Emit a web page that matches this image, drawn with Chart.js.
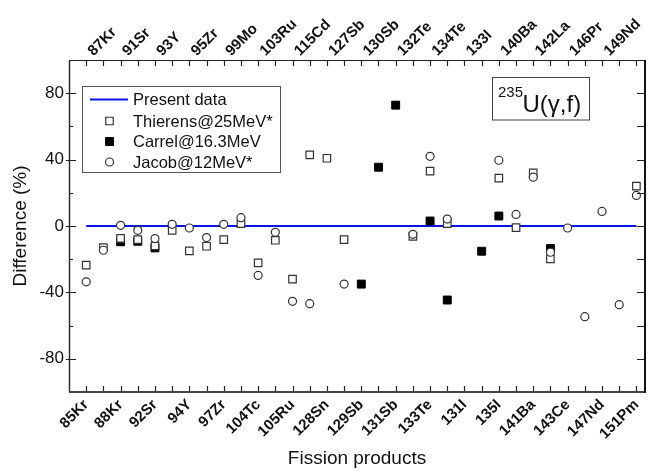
<!DOCTYPE html>
<html>
<head>
<meta charset="utf-8">
<script src="https://cdn.jsdelivr.net/npm/chart.js@4.4.1/dist/chart.umd.min.js"></script>
<style>
    html, body { margin: 0; padding: 0; background: #fff; }
    #wrap { width: 670px; height: 472px; }
</style>
</head>
<body>
<div id="wrap"><canvas id="chart" width="670" height="472"></canvas></div>
<script>
// Fission products in axis order: even positions are labelled on the bottom axis, odd on the top axis
const products = ['85Kr', '87Kr', '88Kr', '91Sr', '92Sr', '93Y', '94Y', '95Zr', '97Zr', '99Mo',
    '104Tc', '103Ru', '105Ru', '115Cd', '128Sn', '127Sb', '129Sb', '130Sb', '131Sb', '132Te',
    '133Te', '134Te', '131I', '133I', '135I', '140Ba', '141Ba', '142La', '143Ce', '146Pr',
    '147Nd', '149Nd', '151Pm'];

// Difference (%) with respect to present data
const presentData = [0, 0, 0, 0, 0, 0, 0, 0, 0, 0, 0, 0, 0, 0, 0, 0, 0, 0, 0, 0,
    0, 0, 0, 0, 0, 0, 0, 0, 0, 0, 0, 0, 0];
const thierens = [-23.6, -13, -7.5, -8.2, -12, -2.6, -15, -12.2, -8.2, 1.4,
    -22.2, -8.6, -32, 42.8, 40.8, -8.2, null, null, null, -6.2,
    33, 1.4, null, null, 28.8, -1, 32, -19.8, null, null,
    null, null, 24];
const carrel = [null, null, -9.5, -9.2, -13.2, null, null, null, null, null,
    null, null, null, null, null, null, -35, 35.4, 72.8, null,
    3, -44.6, null, -15.2, 6, null, null, -13.6, null, null,
    null, null, null];
const jacob = [-33.6, -14.6, 0.4, -2.6, -7.6, 1, -1.2, -7, 1, 5,
    -29.8, -3.8, -45.4, -46.8, null, -35, null, null, null, -5,
    42, 4.2, null, null, 39.6, 7, 29.4, -15.8, -1.2, -54.6,
    8.8, -47.4, 18.4];

const yMajorTicks = [-80, -40, 0, 40, 80];
const yAllTicks = [-80, -60, -40, -20, 0, 20, 40, 60, 80];

const FONT = '"Liberation Sans", Arial, Helvetica, sans-serif';

function toPoints(values) {
    return values.map((v, i) => ({ x: i, y: v })).filter(p => p.y !== null);
}

const bottomIdx = products.map((p, i) => i).filter(i => i % 2 === 0);
const topIdx = products.map((p, i) => i).filter(i => i % 2 === 1);

// Frame, inward ticks, legend box and reaction label
const framePlugin = {
    id: 'frame',
    afterDraw(chart) {
        const ctx = chart.ctx;
        const a = chart.chartArea;
        const xs = chart.scales.x;
        const ys = chart.scales.y;
        ctx.save();

        // ticks
        ctx.strokeStyle = '#222';
        ctx.lineWidth = 1.2;
        ctx.beginPath();
        products.forEach((p, i) => {
            const px = Math.round(xs.getPixelForValue(i)) + 0.5;
            ctx.moveTo(px, a.bottom);
            ctx.lineTo(px, a.bottom - 6);
            ctx.moveTo(px, a.top);
            ctx.lineTo(px, a.top + 6);
        });
        yAllTicks.forEach(v => {
            const py = Math.round(ys.getPixelForValue(v)) + 0.5;
            const major = yMajorTicks.includes(v);
            ctx.moveTo(a.left - (major ? 3 : 0), py);
            ctx.lineTo(a.left + (major ? 7 : 4), py);
            ctx.moveTo(a.right, py);
            ctx.lineTo(a.right - 8, py);
        });
        ctx.stroke();

        // frame
        ctx.strokeStyle = '#222';
        ctx.lineWidth = 1;
        ctx.beginPath();
        ctx.moveTo(a.left, a.top + 0.5);
        ctx.lineTo(a.right, a.top + 0.5);
        ctx.stroke();
        ctx.lineWidth = 1.4;
        ctx.beginPath();
        ctx.moveTo(a.left + 0.5, a.top);
        ctx.lineTo(a.left + 0.5, a.bottom);
        ctx.stroke();
        ctx.strokeStyle = '#444';
        ctx.lineWidth = 1.8;
        ctx.beginPath();
        ctx.moveTo(a.left, a.bottom);
        ctx.lineTo(a.right + 1, a.bottom);
        ctx.stroke();
        ctx.strokeStyle = '#111';
        ctx.lineWidth = 2;
        ctx.beginPath();
        ctx.moveTo(a.right, a.top);
        ctx.lineTo(a.right, a.bottom + 1);
        ctx.stroke();

        // legend
        ctx.strokeStyle = '#555';
        ctx.lineWidth = 1;
        ctx.strokeRect(82.5, 86.5, 198, 86);
        const rows = [99.5, 121, 141.5, 162];
        ctx.font = '16.5px ' + FONT;
        ctx.textBaseline = 'middle';
        ctx.textAlign = 'left';
        chart.data.datasets.forEach((ds, k) => {
            const y = rows[k];
            if (ds.showLine) {
                ctx.strokeStyle = ds.borderColor;
                ctx.lineWidth = ds.borderWidth;
                ctx.beginPath();
                ctx.moveTo(90, y);
                ctx.lineTo(128, y);
                ctx.stroke();
            } else {
                ctx.fillStyle = ds.backgroundColor;
                ctx.strokeStyle = ds.borderColor;
                ctx.lineWidth = ds.borderWidth;
                Chart.helpers.drawPoint(ctx, {
                    pointStyle: ds.pointStyle,
                    radius: ds.pointRadius,
                    rotation: 0,
                    borderWidth: ds.borderWidth
                }, 109.5, y);
            }
            ctx.fillStyle = '#111';
            ctx.fillText(ds.label, 133, y + 1);
        });

        // reaction label
        ctx.strokeStyle = '#444';
        ctx.lineWidth = 1;
        ctx.strokeRect(492.5, 77.5, 97, 42.5);
        ctx.fillStyle = '#111';
        ctx.textBaseline = 'alphabetic';
        ctx.font = '15px ' + FONT;
        ctx.fillText('235', 498, 97);
        ctx.font = '24px ' + FONT;
        ctx.fillText('U(γ,f)', 522.5, 112);

        ctx.restore();
    }
};

new Chart(document.getElementById('chart'), {
    type: 'scatter',
    data: {
        datasets: [
            {
                label: 'Present data',
                data: toPoints(presentData),
                showLine: true,
                borderColor: '#0a14e6',
                backgroundColor: '#0a14e6',
                borderWidth: 2,
                pointRadius: 0,
                order: 4
            },
            {
                label: 'Thierens@25MeV*',
                data: toPoints(thierens),
                pointStyle: 'rect',
                pointRadius: 5.3,
                backgroundColor: '#fff',
                borderColor: '#333',
                borderWidth: 1.2,
                order: 2
            },
            {
                label: 'Carrel@16.3MeV',
                data: toPoints(carrel),
                pointStyle: 'rect',
                pointRadius: 5.6,
                backgroundColor: '#000',
                borderColor: '#000',
                borderWidth: 1,
                order: 3
            },
            {
                label: 'Jacob@12MeV*',
                data: toPoints(jacob),
                pointStyle: 'circle',
                pointRadius: 4,
                backgroundColor: '#fff',
                borderColor: '#333',
                borderWidth: 1.2,
                order: 1
            }
        ]
    },
    options: {
        responsive: false,
        devicePixelRatio: 1,
        animation: false,
        layout: { padding: 0 },
        plugins: {
            legend: { display: false },
            tooltip: { enabled: false }
        },
        scales: {
            x: {
                type: 'linear',
                position: 'bottom',
                min: -1,
                max: 32.5,
                afterBuildTicks: scale => { scale.ticks = bottomIdx.map(i => ({ value: i })); },
                afterFit: scale => { scale.height = 80; },
                grid: { display: false, drawTicks: false },
                border: { display: false },
                ticks: {
                    autoSkip: false,
                    minRotation: 45,
                    maxRotation: 45,
                    padding: 4,
                    color: '#111',
                    font: { family: FONT, size: 15, weight: 'bold' },
                    callback: v => products[v]
                },
                title: {
                    display: true,
                    text: 'Fission products',
                    color: '#111',
                    padding: { top: 0, bottom: 2 },
                    font: { family: FONT, size: 19 }
                }
            },
            x2: {
                type: 'linear',
                position: 'top',
                min: -1,
                max: 32.5,
                afterBuildTicks: scale => { scale.ticks = topIdx.map(i => ({ value: i })); },
                afterFit: scale => { scale.height = 60; },
                grid: { display: false, drawTicks: false },
                border: { display: false },
                ticks: {
                    autoSkip: false,
                    minRotation: 45,
                    maxRotation: 45,
                    padding: 0,
                    color: '#111',
                    font: { family: FONT, size: 15, weight: 'bold' },
                    callback: v => products[v]
                }
            },
            y: {
                position: 'left',
                min: -100,
                max: 100,
                afterBuildTicks: scale => { scale.ticks = yMajorTicks.map(v => ({ value: v })); },
                afterFit: scale => { scale.width = 69; },
                grid: { display: false, drawTicks: false },
                border: { display: false },
                ticks: {
                    padding: 5,
                    color: '#111',
                    font: { family: FONT, size: 17 }
                },
                title: {
                    display: true,
                    text: 'Difference (%)',
                    color: '#111',
                    padding: { top: 9, bottom: 0 },
                    font: { family: FONT, size: 19 }
                }
            },
            y2: {
                position: 'right',
                min: -100,
                max: 100,
                afterFit: scale => { scale.width = 25; },
                grid: { display: false, drawTicks: false },
                border: { display: false },
                ticks: { display: false }
            }
        }
    },
    plugins: [framePlugin]
});
</script>
</body>
</html>
